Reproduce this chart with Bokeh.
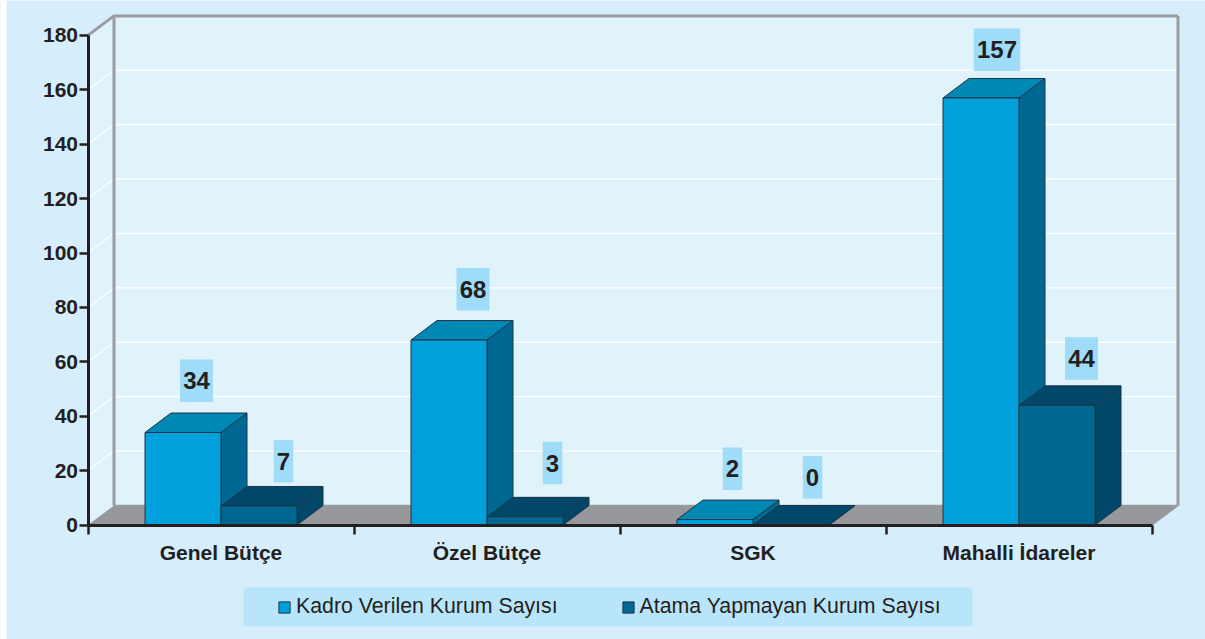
from bokeh.plotting import figure
from bokeh.models import Range1d, LinearAxis, FixedTicker, Legend, LegendItem, ColumnDataSource
from bokeh.core.properties import value
from bokeh.embed import file_html
from bokeh.resources import INLINE

categories = ["Genel Bütçe", "Özel Bütçe", "SGK", "Mahalli İdareler"]
kadro_verilen = [34, 68, 2, 157]
atama_yapmayan = [7, 3, 0, 44]
y_ticks = [0, 20, 40, 60, 80, 100, 120, 140, 160, 180]
series_names = ["Kadro Verilen Kurum Sayısı", "Atama Yapmayan Kurum Sayısı"]
# distance in pixels between a bar's back top edge and its value box
gap_kadro = [11, 10, 10, 7.5]
gap_atama = [4, 13, 7, 6]
# sideways displacement in pixels of each value box
shift_kadro = [0.5, 11, 4.5, 3]
shift_atama = [11.5, 14.5, 8.5, 11.5]

W, H = 1205, 639
PX_X = 266.0      # pixels per category
PX_Y = 2.72       # pixels per unit of value
X0, Y0 = 87.5, 524.5   # canvas pixel of the origin
DX, DY = 26 / PX_X, 19.5 / PX_Y   # 3D depth in data units
BW = 76 / PX_X
BOX_H = 42.5 / PX_Y

FONT = "Liberation Sans"
INK = "#231f20"
BG = "#d6eefb"
WALL = "#e0f3fb"
GREY = "#9a9c9f"
FLOOR = "#97989b"
EDGE = "#1f3545"

def sx(px):
    return (px - X0) / PX_X

def sy(py):
    return (Y0 - py) / PX_Y

p = figure(width=W, height=H, output_backend="svg", toolbar_location=None,
           x_axis_type=None, y_axis_type=None, min_border=0,
           x_range=Range1d(sx(0), sx(W)), y_range=Range1d(sy(H), sy(0)))
p.outline_line_color = None
p.grid.visible = False
p.background_fill_color = BG
p.border_fill_color = BG

n = len(categories)
top = y_ticks[-1]
# white page strip at the left of the picture
p.quad(left=[sx(0)], right=[sx(6)], bottom=[sy(H)], top=[sy(0)], fill_color="white", line_color=None)
# legend band
p.quad(left=[sx(243)], right=[sx(972)], bottom=[sy(626)], top=[sy(587)], fill_color="#b9e5fb", line_color=None)
# walls
p.patches([[0, DX, DX, 0], [DX, n + DX, n + DX, DX]],
          [[top, top + DY, DY, 0], [DY, DY, top + DY, top + DY]],
          fill_color=WALL, line_color=None)
# gridlines on both walls
gx = [[0, DX, n + DX] for t in y_ticks[1:-1]]
gy = [[t, t + DY, t + DY] for t in y_ticks[1:-1]]
p.multi_line(gx, gy, line_color="white", line_width=1.2)
# floor
p.patches([[0, DX, n + DX, n]], [[0, DY, DY, 0]], fill_color=FLOOR, line_color=None)
# wall edges
p.line([DX, DX], [DY, top + DY], line_color=GREY, line_width=3)
p.line([n + DX, n + DX], [DY, top + DY], line_color=GREY, line_width=3)
p.line([0, DX, n + DX], [top, top + DY, top + DY], line_color=GREY, line_width=3)
p.line([n, n + DX, DX], [0, DY, DY], line_color=GREY, line_width=1.5)

def bars(values, offset, front, topc, side):
    lefts = [i + 0.5 + offset for i in range(n)]
    rights = [l + BW for l in lefts]
    p.patches([[r, r + DX, r + DX, r] for r in rights],
              [[0, DY, v + DY, v] for v in values],
              fill_color=side, line_color=EDGE, line_width=1)
    p.patches([[l, l + DX, r + DX, r] for l, r in zip(lefts, rights)],
              [[v, v + DY, v + DY, v] for v in values],
              fill_color=topc, line_color=EDGE, line_width=1)
    return p.quad(left=lefts, right=rights, bottom=[0] * n, top=values,
                  fill_color=front, line_color=EDGE, line_width=1)

r1 = bars(kadro_verilen, -BW, "#00a0dc", "#0088b5", "#006993")
r2 = bars(atama_yapmayan, 0, "#006993", "#00476a", "#00476a")

def labels(values, gaps, shifts, offset):
    xs = [i + 0.5 + offset + BW / 2 + DX / 2 + s / PX_X for i, s in zip(range(n), shifts)]
    ys = [v + DY + g / PX_Y + BOX_H / 2 for v, g in zip(values, gaps)]
    txt = [str(v) for v in values]
    src = ColumnDataSource(dict(x=xs, y=ys, t=txt, w=[6 + 13.5 * len(s) for s in txt]))
    p.rect(x="x", y="y", width="w", width_units="screen", height=BOX_H,
           source=src, fill_color="#9edcf9", line_color=None)
    p.text(x="x", y="y", text="t", source=src, text_align="center", text_baseline="middle",
           text_font=value(FONT), text_font_style="bold", text_font_size="24px", text_color=INK)

labels(kadro_verilen, gap_kadro, shift_kadro, -BW)
labels(atama_yapmayan, gap_atama, shift_atama, 0)

# axes, drawn at the origin of the plot
yaxis = LinearAxis(ticker=FixedTicker(ticks=y_ticks), bounds=(0, top), fixed_location=0,
                   axis_line_color=INK, axis_line_width=3,
                   major_tick_line_color=INK, major_tick_line_width=2.5,
                   major_tick_in=0, major_tick_out=9, minor_tick_line_color=None,
                   major_label_standoff=1,
                   major_label_text_font=FONT, major_label_text_font_style="bold",
                   major_label_text_font_size="21px", major_label_text_color=INK)
p.add_layout(yaxis, "left")

xaxis = LinearAxis(ticker=FixedTicker(ticks=list(range(n + 1))), bounds=(0, n), fixed_location=0,
                   axis_line_color=INK, axis_line_width=3,
                   major_tick_line_color=INK, major_tick_line_width=2.5,
                   major_tick_in=0, major_tick_out=9, minor_tick_line_color=None,
                   major_label_overrides={i: "" for i in range(n + 1)})
p.add_layout(xaxis, "below")

cat_axis = LinearAxis(ticker=FixedTicker(ticks=[i + 0.5 for i in range(n)]), fixed_location=0,
                      axis_line_color=None, major_tick_line_color=None, minor_tick_line_color=None,
                      major_label_standoff=10,
                      major_label_overrides={i + 0.5: c for i, c in enumerate(categories)},
                      major_label_text_font=FONT, major_label_text_font_style="bold",
                      major_label_text_font_size="21px", major_label_text_color=INK)
p.add_layout(cat_axis, "below")

legend = Legend(items=[LegendItem(label=series_names[0], renderers=[r1]),
                       LegendItem(label=series_names[1], renderers=[r2])],
                orientation="horizontal", location=(277, 20), margin=0,
                padding=0, spacing=63, label_standoff=5,
                glyph_width=14, glyph_height=14,
                background_fill_alpha=0, border_line_color=None,
                label_text_font=FONT, label_text_font_size="21.3px", label_text_color=INK)
p.add_layout(legend, "center")

open("out.html", "w").write(file_html(p, INLINE))
